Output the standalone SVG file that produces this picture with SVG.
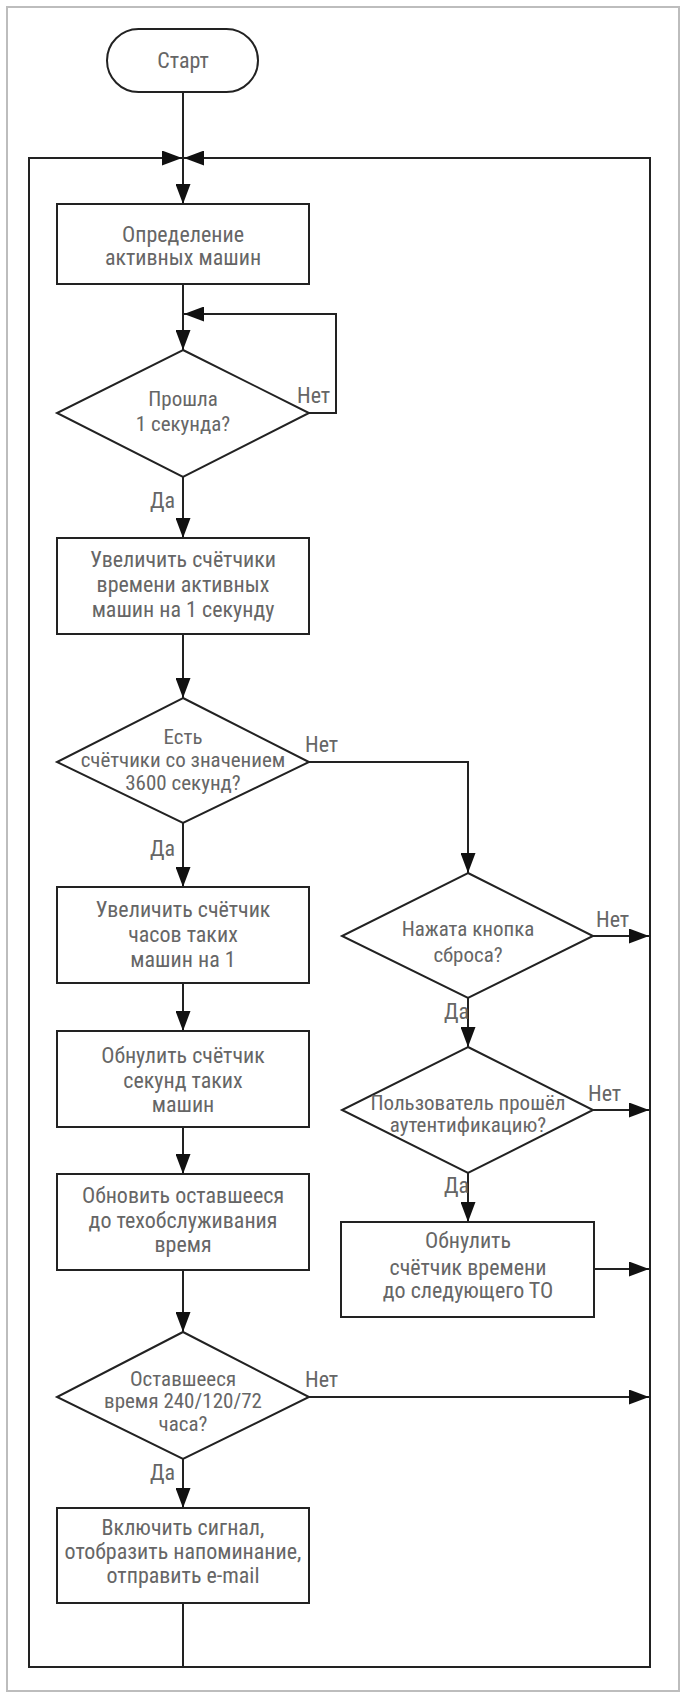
<svg xmlns="http://www.w3.org/2000/svg" width="688" height="1702" viewBox="0 0 688 1702">
<defs>
<style>
.frame{fill:#fff;stroke:#bdbdbd;stroke-width:2}
.node{fill:#fff;stroke:#222;stroke-width:2}
.line{fill:none;stroke:#222;stroke-width:2}
.t{font-family:"Liberation Sans Narrow","Roboto Condensed","Open Sans Condensed","DejaVu Sans Condensed",sans-serif;font-stretch:condensed;font-size:22px;fill:#666;text-anchor:middle}
.d{font-size:21px}
.lbl{font-family:"Liberation Sans Narrow","Roboto Condensed","Open Sans Condensed","DejaVu Sans Condensed",sans-serif;font-stretch:condensed;font-size:22px;fill:#666}
</style>
<marker id="arr" markerUnits="userSpaceOnUse" markerWidth="20" markerHeight="15" refX="20" refY="7.5" orient="auto">
<path d="M0,0 L20,7.5 L0,15 z" fill="#111"/>
</marker>
</defs>
<rect class="frame" x="7" y="7" width="672" height="1684"/>

<g id="connectors">
<path class="line" d="M183,92 L183,204" marker-end="url(#arr)"/>
<path class="line" d="M183,1603 L183,1667 L29,1667 L29,158 L182,158" marker-end="url(#arr)"/>
<path class="line" d="M183,1667 L650,1667 L650,158 L184,158" marker-end="url(#arr)"/>
<path class="line" d="M183,284 L183,350" marker-end="url(#arr)"/>
<path class="line" d="M309,413 L336,413 L336,314 L184,314" marker-end="url(#arr)"/>
<path class="line" d="M183,477 L183,538" marker-end="url(#arr)"/>
<path class="line" d="M183,634 L183,698" marker-end="url(#arr)"/>
<path class="line" d="M309,762 L468,762 L468,873" marker-end="url(#arr)"/>
<path class="line" d="M183,823 L183,887" marker-end="url(#arr)"/>
<path class="line" d="M183,983 L183,1031" marker-end="url(#arr)"/>
<path class="line" d="M183,1127 L183,1174" marker-end="url(#arr)"/>
<path class="line" d="M183,1270 L183,1332" marker-end="url(#arr)"/>
<path class="line" d="M309,1397 L649,1397" marker-end="url(#arr)"/>
<path class="line" d="M183,1459 L183,1508" marker-end="url(#arr)"/>
<path class="line" d="M593,936 L649,936" marker-end="url(#arr)"/>
<path class="line" d="M468,998 L468,1047" marker-end="url(#arr)"/>
<path class="line" d="M593,1110 L649,1110" marker-end="url(#arr)"/>
<path class="line" d="M468,1173 L468,1222" marker-end="url(#arr)"/>
<path class="line" d="M594,1269 L649,1269" marker-end="url(#arr)"/>
<text class="lbl" x="297" y="403">Нет</text>
<text class="lbl" x="150" y="508">Да</text>
<text class="lbl" x="305" y="752">Нет</text>
<text class="lbl" x="150" y="856">Да</text>
<text class="lbl" x="596" y="927">Нет</text>
<text class="lbl" x="444" y="1019">Да</text>
<text class="lbl" x="588" y="1101">Нет</text>
<text class="lbl" x="444" y="1193">Да</text>
<text class="lbl" x="305" y="1387">Нет</text>
<text class="lbl" x="150" y="1480">Да</text>
</g>

<g id="start">
<rect class="node" x="107" y="29" width="151" height="63" rx="31.5"/>
<text class="t" x="183" y="68">Старт</text>
</g>

<g id="detect">
<rect class="node" x="57" y="204" width="252" height="80"/>
<text class="t" x="183" y="242">Определение</text>
<text class="t" x="183" y="265">активных машин</text>
</g>

<g id="second">
<polygon class="node" points="183,350 309,413 183,477 57,413"/>
<text class="t d" x="183" y="406">Прошла</text>
<text class="t d" x="183" y="431">1 секунда?</text>
</g>

<g id="inc-sec">
<rect class="node" x="57" y="538" width="252" height="96"/>
<text class="t" x="183" y="567">Увеличить счётчики</text>
<text class="t" x="183" y="592">времени активных</text>
<text class="t" x="183" y="617">машин на 1 секунду</text>
</g>

<g id="check3600">
<polygon class="node" points="183,698 309,762 183,823 57,762"/>
<text class="t d" x="183" y="744">Есть</text>
<text class="t d" x="183" y="767">счётчики со значением</text>
<text class="t d" x="183" y="790">3600 секунд?</text>
</g>

<g id="inc-hours">
<rect class="node" x="57" y="887" width="252" height="96"/>
<text class="t" x="183" y="917">Увеличить счётчик</text>
<text class="t" x="183" y="942">часов таких</text>
<text class="t" x="183" y="967">машин на 1</text>
</g>

<g id="reset-sec">
<rect class="node" x="57" y="1031" width="252" height="96"/>
<text class="t" x="183" y="1063">Обнулить счётчик</text>
<text class="t" x="183" y="1088">секунд таких</text>
<text class="t" x="183" y="1112">машин</text>
</g>

<g id="update">
<rect class="node" x="57" y="1174" width="252" height="96"/>
<text class="t" x="183" y="1203">Обновить оставшееся</text>
<text class="t" x="183" y="1228">до техобслуживания</text>
<text class="t" x="183" y="1252">время</text>
</g>

<g id="remaining">
<polygon class="node" points="183,1332 309,1397 183,1459 57,1397"/>
<text class="t d" x="183" y="1386">Оставшееся</text>
<text class="t d" x="183" y="1408">время 240/120/72</text>
<text class="t d" x="183" y="1431">часа?</text>
</g>

<g id="alert">
<rect class="node" x="57" y="1508" width="252" height="95"/>
<text class="t" x="183" y="1535">Включить сигнал,</text>
<text class="t" x="183" y="1559">отобразить напоминание,</text>
<text class="t" x="183" y="1583">отправить e-mail</text>
</g>

<g id="reset-btn">
<polygon class="node" points="468,873 593,936 468,998 342,936"/>
<text class="t d" x="468" y="936">Нажата кнопка</text>
<text class="t d" x="468" y="962">сброса?</text>
</g>

<g id="auth">
<polygon class="node" points="468,1047 593,1110 468,1173 342,1110"/>
<text class="t d" x="468" y="1110">Пользователь прошёл</text>
<text class="t d" x="468" y="1132">аутентификацию?</text>
</g>

<g id="reset-to">
<rect class="node" x="341" y="1222" width="253" height="95"/>
<text class="t" x="468" y="1248">Обнулить</text>
<text class="t" x="468" y="1275">счётчик времени</text>
<text class="t" x="468" y="1298">до следующего ТО</text>
</g>
</svg>
